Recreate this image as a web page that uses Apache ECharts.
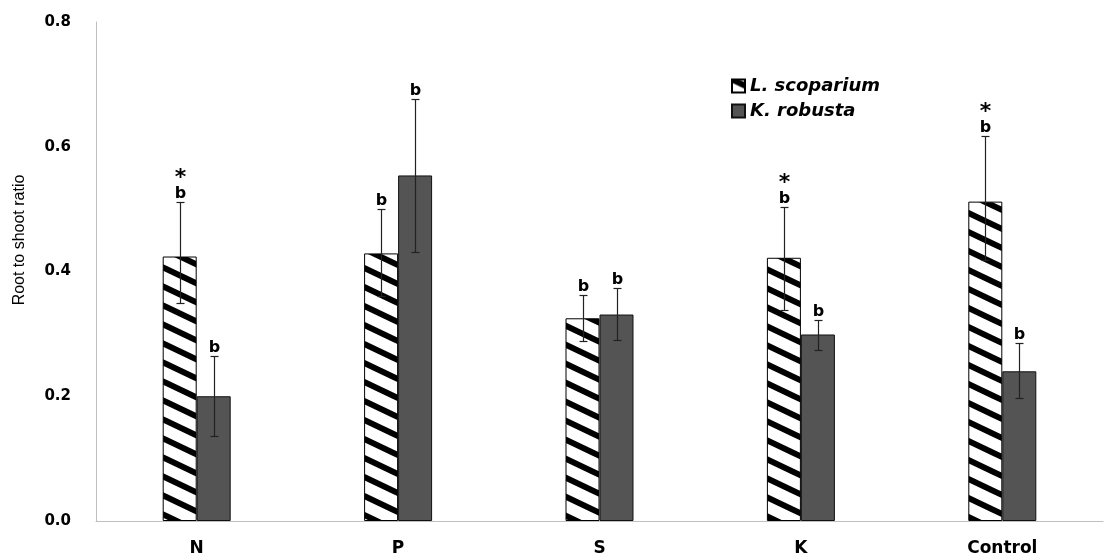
<!DOCTYPE html>
<html>
<head>
<meta charset="utf-8">
<script src="https://cdn.jsdelivr.net/npm/echarts@6/dist/echarts.min.js"></script>
<style>
html,body{margin:0;padding:0;background:#fff;}
#chart{width:1107px;height:557px;}
</style>
</head>
<body>
<div id="chart"></div>
<script>
var categories = ['N', 'P', 'S', 'K', 'Control'];
var yTicks = [0, 0.2, 0.4, 0.6, 0.8];
var seriesNames = ['L. scoparium', 'K. robusta'];
var lscoparium = [0.424, 0.429, 0.325, 0.422, 0.512];
var lscopariumLow = [0.350, 0.360, 0.288, 0.339, 0.419];
var lscopariumHigh = [0.511, 0.500, 0.363, 0.504, 0.618];
var lscopariumLetters = ['b', 'b', 'b', 'b', 'b'];
var lscopariumStars = ['*', '', '', '*', '*'];
var krobusta = [0.200, 0.554, 0.331, 0.299, 0.240];
var krobustaLow = [0.136, 0.432, 0.290, 0.274, 0.197];
var krobustaHigh = [0.264, 0.677, 0.373, 0.323, 0.285];
var krobustaLetters = ['b', 'b', 'b', 'b', 'b'];
var krobustaStars = ['', '', '', '', ''];

// hatch pattern (backslash stripes, top-left to bottom-right)
function makeHatch() {
  var W = 40, H = 19;
  var c = document.createElement('canvas');
  c.width = W; c.height = H;
  var ctx = c.getContext('2d');
  ctx.fillStyle = '#fff';
  ctx.fillRect(0, 0, W, H);
  ctx.strokeStyle = '#000';
  ctx.lineWidth = 6;
  for (var k = -2; k <= 2; k++) {
    ctx.beginPath();
    ctx.moveTo(-10, k * H - 10 * H / W);
    ctx.lineTo(W + 10, k * H + H + 10 * H / W);
    ctx.stroke();
  }
  return c;
}
var hatch = makeHatch();

var BAR_W = 34;

function errData(low, high, letters, stars, off) {
  return categories.map(function (c, i) {
    return [i, low[i], high[i], letters[i], stars[i], off];
  });
}

function renderErr(params, api) {
  var i = api.value(0);
  var off = api.value(5);
  var pHigh = api.coord([i, api.value(2)]);
  var pLow = api.coord([i, api.value(1)]);
  var x = Math.round(pHigh[0] + off) + 0.5;
  var yh = Math.round(pHigh[1]) + 0.5;
  var yl = Math.round(pLow[1]) + 0.5;
  var cap = 4;
  var st = { stroke: '#222', lineWidth: 1.2 };
  var children = [
    { type: 'line', shape: { x1: x, y1: yh, x2: x, y2: yl }, style: st },
    { type: 'line', shape: { x1: x - cap, y1: yh, x2: x + cap, y2: yh }, style: st },
    { type: 'line', shape: { x1: x - cap, y1: yl, x2: x + cap, y2: yl }, style: st },
    { type: 'text', style: { text: String(api.value(3)), x: x, y: yh - 1, align: 'center', verticalAlign: 'bottom',
        font: 'bold 16px "DejaVu Sans"', fill: '#000' } }
  ];
  var star = api.value(4);
  if (star) {
    children.push({ type: 'text', style: { text: String(star), x: x, y: yh - 13, align: 'center', verticalAlign: 'bottom',
        font: 'bold 22px "DejaVu Sans"', fill: '#000' } });
  }
  return { type: 'group', children: children };
}

var chart = echarts.init(document.getElementById('chart'), null, { renderer: 'canvas' });
chart.setOption({
  animation: false,
  backgroundColor: '#fff',
  grid: { left: 96, right: 4, top: 22, bottom: 35, containLabel: false },
  legend: {
    orient: 'vertical',
    left: 726, top: 72,
    icon: 'rect',
    itemWidth: 13, itemHeight: 13,
    itemGap: 7,
    data: seriesNames,
    textStyle: { fontFamily: 'DejaVu Sans', fontWeight: 'bold', fontStyle: 'italic', fontSize: 18, lineHeight: 18, color: '#000' }
  },
  xAxis: {
    type: 'category',
    data: categories,
    axisLine: { lineStyle: { color: '#bfbfbf', width: 1 } },
    axisTick: { show: false },
    axisLabel: { margin: 19, fontFamily: 'DejaVu Sans', fontWeight: 'bold', fontSize: 17, color: '#000' }
  },
  yAxis: {
    type: 'value',
    min: yTicks[0], max: yTicks[yTicks.length - 1], interval: 0.2,
    axisLine: { show: true, lineStyle: { color: '#bfbfbf', width: 1 } },
    axisTick: { show: false },
    splitLine: { show: false },
    axisLabel: { margin: 25, fontFamily: 'DejaVu Sans', fontWeight: 'bold', fontSize: 15, color: '#000',
      formatter: function (v) { return v.toFixed(1); } }
  },
  graphic: [{
    type: 'text', x: 20, y: 240, rotation: Math.PI / 2,
    style: { text: 'Root to shoot ratio', align: 'center', verticalAlign: 'middle',
      font: '16px "Liberation Sans Narrow", "Liberation Sans", sans-serif', fill: '#000' }
  }],
  series: [
    {
      name: seriesNames[0], type: 'bar', data: lscoparium, barWidth: BAR_W, barGap: '0%',
      itemStyle: { color: { image: hatch, repeat: 'repeat' }, borderColor: '#000', borderWidth: 1 }
    },
    {
      name: seriesNames[1], type: 'bar', data: krobusta, barWidth: BAR_W, barGap: '0%',
      itemStyle: { color: '#545454', borderColor: '#111', borderWidth: 1 }
    },
    {
      type: 'custom', renderItem: renderErr, z: 5,
      data: errData(lscopariumLow, lscopariumHigh, lscopariumLetters, lscopariumStars, -BAR_W / 2)
    },
    {
      type: 'custom', renderItem: renderErr, z: 5,
      data: errData(krobustaLow, krobustaHigh, krobustaLetters, krobustaStars, BAR_W / 2)
    }
  ]
});
</script>
</body>
</html>
